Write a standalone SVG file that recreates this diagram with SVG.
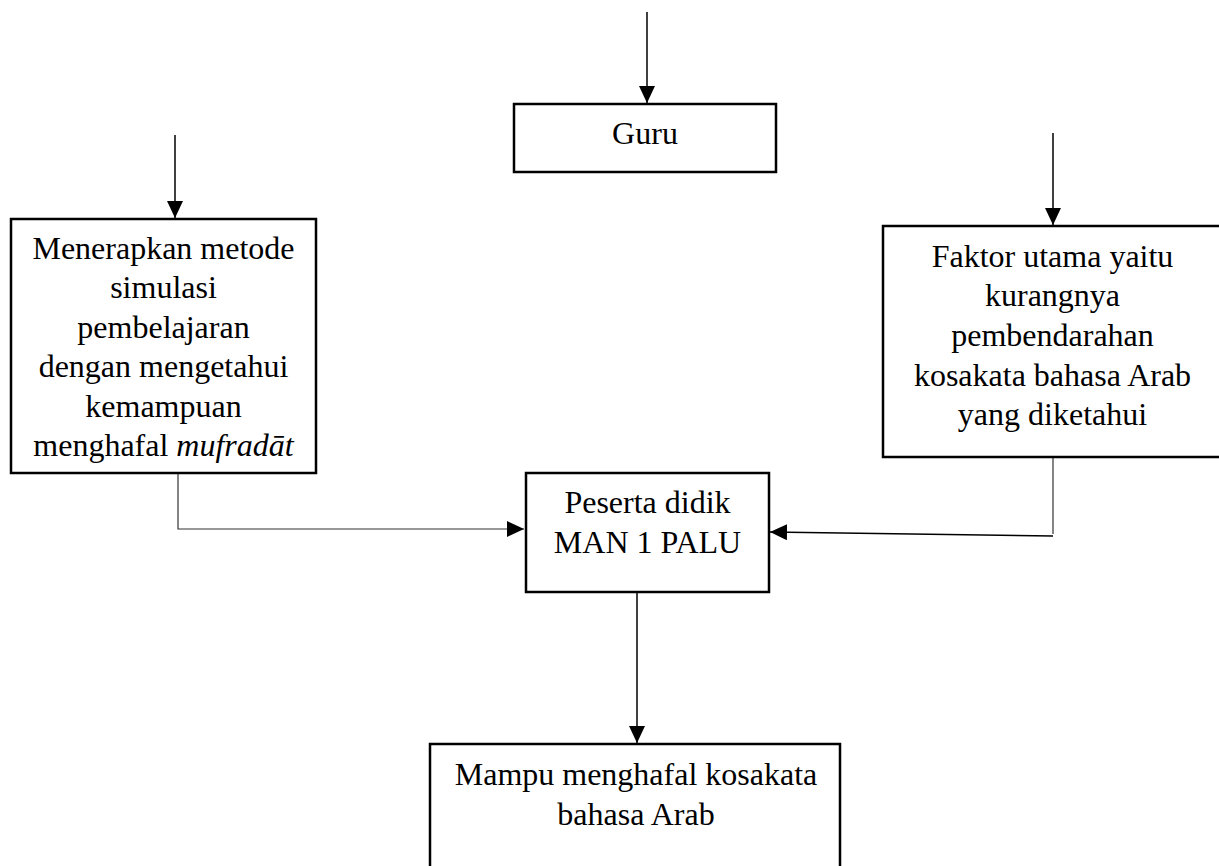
<svg xmlns="http://www.w3.org/2000/svg" width="1219" height="866" viewBox="0 0 1219 866">
<style>
.box{fill:#fff;stroke:#000;stroke-width:2.5}
.t{font-family:"Liberation Serif","Times New Roman",serif;font-size:32px;fill:#000;text-anchor:middle}
.c{fill:none;stroke:#000;stroke-width:1.5}
.thin{fill:none;stroke:#333;stroke-width:1.2}
</style>
<defs>
<marker id="ah" markerUnits="userSpaceOnUse" markerWidth="18" markerHeight="16" refX="17" refY="8" orient="auto">
<path d="M0,0 L17,8 L0,16 Z" fill="#000"/>
</marker>
</defs>
<rect width="1219" height="866" fill="#fff"/>
<g id="connectors">
<line class="c" x1="647" y1="12" x2="647" y2="103" marker-end="url(#ah)"/>
<line class="c" x1="175" y1="135" x2="175" y2="218" marker-end="url(#ah)"/>
<line class="c" x1="1053" y1="133" x2="1053" y2="225" marker-end="url(#ah)"/>
<polyline class="thin" points="178,473 178,529 524,529" marker-end="url(#ah)"/>
<line class="thin" x1="1053" y1="457" x2="1053" y2="534"/>
<line class="c" x1="1053" y1="536" x2="770" y2="532" marker-end="url(#ah)"/>
<line class="c" x1="637" y1="592" x2="637" y2="743" marker-end="url(#ah)"/>
</g>
<g id="guru">
<rect class="box" x="514" y="104" width="262" height="68"/>
<text class="t" x="645" y="144">Guru</text>
</g>
<g id="metode">
<rect class="box" x="11" y="219" width="305" height="254"/>
<text class="t" x="163.5" y="259">Menerapkan metode</text>
<text class="t" x="163.5" y="298">simulasi</text>
<text class="t" x="163.5" y="338">pembelajaran</text>
<text class="t" x="163.5" y="377">dengan mengetahui</text>
<text class="t" x="163.5" y="417">kemampuan</text>
<text class="t" x="163.5" y="456">menghafal <tspan font-style="italic">mufradāt</tspan></text>
</g>
<g id="faktor">
<rect class="box" x="883" y="226" width="350" height="231"/>
<text class="t" x="1052.5" y="267">Faktor utama yaitu</text>
<text class="t" x="1052.5" y="306">kurangnya</text>
<text class="t" x="1052.5" y="346">pembendarahan</text>
<text class="t" x="1052.5" y="386">kosakata bahasa Arab</text>
<text class="t" x="1052.5" y="425">yang diketahui</text>
</g>
<g id="peserta">
<rect class="box" x="526" y="473" width="243" height="119"/>
<text class="t" x="647.5" y="513">Peserta didik</text>
<text class="t" x="647.5" y="553">MAN 1 PALU</text>
</g>
<g id="mampu">
<rect class="box" x="430" y="744" width="410" height="140"/>
<text class="t" x="636" y="785">Mampu menghafal kosakata</text>
<text class="t" x="636" y="825">bahasa Arab</text>
</g>
</svg>
